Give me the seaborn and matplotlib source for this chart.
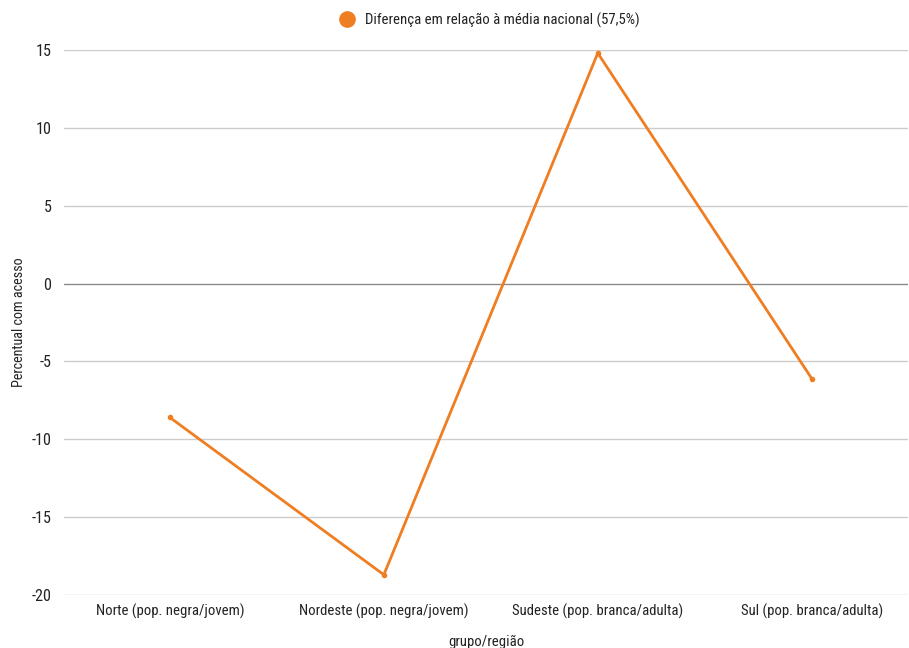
import matplotlib
matplotlib.use("Agg")
import matplotlib.pyplot as plt
import seaborn as sns
import pandas as pd

categorias = [
    "Norte (pop. negra/jovem)",
    "Nordeste (pop. negra/jovem)",
    "Sudeste (pop. branca/adulta)",
    "Sul (pop. branca/adulta)",
]
diferenca = [-8.6, -18.7, 14.8, -6.1]
serie = "Diferença em relação à média nacional (57,5%)"
yticks = [-20, -15, -10, -5, 0, 5, 10, 15]

sns.set_style("white")
plt.rcParams["font.family"] = ["Roboto Condensed", "DejaVu Sans"]
plt.rcParams["text.color"] = "#222222"
plt.rcParams["axes.labelcolor"] = "#222222"
plt.rcParams["xtick.color"] = "#222222"
plt.rcParams["ytick.color"] = "#222222"
fs = 10.6

df = pd.DataFrame({"grupo": categorias, "valor": diferenca, "serie": serie})
df["pos"] = range(len(df))

fig = plt.figure(figsize=(9.09, 6.48), dpi=100)
ax = fig.add_axes([64 / 909, 1 - 595 / 648, (908 - 64) / 909, (595 - 50) / 648])

orange = "#ef7d22"
sns.lineplot(
    data=df, x="pos", y="valor", hue="serie", palette=[orange],
    marker="o", markersize=4, markeredgewidth=0, linewidth=2, ax=ax,
)

ax.set_ylim(-20, 15)
ax.set_yticks(yticks)
ax.set_yticklabels([str(t) for t in yticks], fontsize=fs + 1)
ax.set_xlim(-0.495, 3.45)
ax.set_xticks(df["pos"])
ax.set_xticklabels(categorias, fontsize=fs)
ax.tick_params(axis="y", length=0, pad=9)
ax.tick_params(axis="x", length=0, pad=6)

# gridlines, zero line darker
for t in yticks:
    ax.axhline(t, color="#cccccc" if t != 0 else "#8a8a8a", linewidth=1, zorder=0)

for s in ax.spines.values():
    s.set_visible(False)

ax.set_xlabel("grupo/região", fontsize=fs, labelpad=12)
ax.set_ylabel("Percentual com acesso", fontsize=10.2)
ax.yaxis.set_label_coords(-0.045, 0.5)

handles = [plt.Line2D([], [], marker="o", color=orange, linestyle="none", markersize=11)]
ax.legend(handles, [serie], loc="center", bbox_to_anchor=(0.5, 1 + 30 / 545),
          frameon=False, fontsize=fs, handletextpad=0.2, borderaxespad=0)

fig.savefig("out.png", dpi=100)
